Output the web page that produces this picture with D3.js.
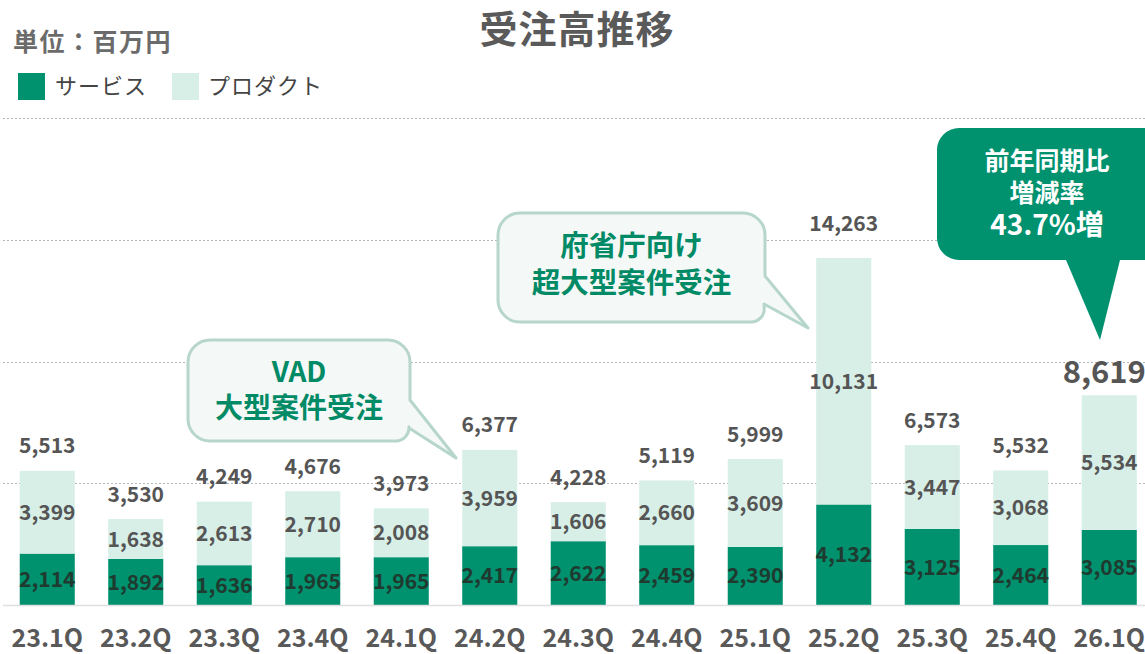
<!DOCTYPE html>
<html><head><meta charset="utf-8">
<script src="https://cdn.jsdelivr.net/npm/d3@7"></script>
<style>body{margin:0;background:#fff}svg{display:block;font-family:"Noto Sans CJK JP","Noto Sans",sans-serif}</style>
</head><body>
<svg id="c" width="1145" height="654"></svg>
<script>
const categories = ["23.1Q","23.2Q","23.3Q","23.4Q","24.1Q","24.2Q","24.3Q","24.4Q","25.1Q","25.2Q","25.3Q","25.4Q","26.1Q"];
const service = [2114,1892,1636,1965,1965,2417,2622,2459,2390,4132,3125,2464,3085];
const product = [3399,1638,2613,2710,2008,3959,1606,2660,3609,10131,3447,3068,5534];
const totals  = [5513,3530,4249,4676,3973,6377,4228,5119,5999,14263,6573,5532,8619];
const yTicks = [0,5000,10000,15000,20000];

const DARK = "#00916f", LIGHT = "#d8efe8";
const svg = d3.select("#c");
const W = 1145;
const x = d3.scaleBand().domain(categories).range([3, 3 + 13*88.5]).paddingInner(0.378).paddingOuter(0.189);
const y = d3.scaleLinear().domain([0,20000]).range([605,118.4]);
const fmt = d3.format(",");

// gridlines
svg.append("g").selectAll("line").data(yTicks.filter(d=>d>0)).join("line")
  .attr("x1",3).attr("x2",W).attr("y1",d=>Math.round(y(d))+0.5).attr("y2",d=>Math.round(y(d))+0.5)
  .attr("stroke","#b5b5b5").attr("stroke-width",1).attr("stroke-dasharray","2,2");

// bars
const g = svg.append("g");
categories.forEach((c,i)=>{
  const bx = x(c), bw = x.bandwidth();
  g.append("rect").attr("x",bx).attr("width",bw).attr("y",y(service[i])).attr("height",y(0)-y(service[i])).attr("fill",DARK);
  g.append("rect").attr("x",bx).attr("width",bw).attr("y",y(service[i]+product[i])).attr("height",y(service[i])-y(service[i]+product[i])).attr("fill",LIGHT);
  const cx = bx + bw/2;
  g.append("text").attr("x",cx).attr("y",(y(0)+y(service[i]))/2).attr("dy","0.36em").attr("text-anchor","middle")
    .attr("font-size",21).attr("font-weight",700).attr("fill","#1f3a2f").text(fmt(service[i]));
  g.append("text").attr("x",cx).attr("y",(y(service[i])+y(service[i]+product[i]))/2).attr("dy","0.36em").attr("text-anchor","middle")
    .attr("font-size",21).attr("font-weight",700).attr("fill","#555").text(fmt(product[i]));
  const last = i === categories.length-1;
  const off = last ? 23 : (totals[i] > 10000 ? 35 : 25);
  g.append("text").attr("x",last? cx-5 : cx).attr("y",y(totals[i]) - off).attr("dy","0.36em").attr("text-anchor","middle")
    .attr("font-size",last?31:21).attr("font-weight",700).attr("fill","#555").text(fmt(totals[i]));
});

// baseline
svg.append("line").attr("x1",3).attr("x2",W).attr("y1",y(0)+0.5).attr("y2",y(0)+0.5).attr("stroke","#e0e0e0").attr("stroke-width",1.5);

// x axis labels
svg.append("g").selectAll("text").data(categories).join("text")
  .attr("x",d=>x(d)+x.bandwidth()/2).attr("y",638).attr("dy","0.36em").attr("text-anchor","middle")
  .attr("font-size",25).attr("font-weight",700).attr("fill","#595959").text(d=>d);

// title, unit, legend
svg.append("text").attr("x",577).attr("y",29).attr("dy","0.36em").attr("text-anchor","middle")
  .attr("font-size",38).attr("font-weight",700).attr("fill","#5a5a5a").attr("letter-spacing",1).text("受注高推移");
svg.append("text").attr("x",13).attr("y",42).attr("dy","0.36em")
  .attr("font-size",25).attr("font-weight",700).attr("fill","#6b6b6b").attr("letter-spacing",1.5).text("単位：百万円");
svg.append("rect").attr("x",18).attr("y",73).attr("width",27).attr("height",27).attr("fill",DARK);
svg.append("text").attr("x",55).attr("y",86).attr("dy","0.36em").attr("font-size",22).attr("fill","#444").attr("letter-spacing",1).text("サービス");
svg.append("rect").attr("x",172).attr("y",73).attr("width",27).attr("height",27).attr("fill",LIGHT);
svg.append("text").attr("x",208).attr("y",86).attr("dy","0.36em").attr("font-size",22).attr("fill","#444").attr("letter-spacing",1).text("プロダクト");

// light callouts
function lightBubble(x0,y0,x1,y1,tail,lines,fs){
  const r=22;
  const p = d3.path();
  p.moveTo(x0+r,y0); p.lineTo(x1-r,y0); p.arcTo(x1,y0,x1,y0+r,r);
  p.lineTo(x1,tail.a); p.lineTo(tail.tx,tail.ty); p.lineTo(tail.bx,tail.by);
  p.arcTo(x1,y1,x1-r,y1,r*0.6);
  p.lineTo(x0+r,y1); p.arcTo(x0,y1,x0,y1-r,r);
  p.lineTo(x0,y0+r); p.arcTo(x0,y0,x0+r,y0,r); p.closePath();
  svg.append("path").attr("d",p.toString()).attr("fill","#f4f8f6").attr("stroke","#b7d6cb").attr("stroke-width",3).attr("stroke-linejoin","round");
  lines.forEach(l=>svg.append("text").attr("x",(x0+x1)/2).attr("y",l.y).attr("dy","0.36em").attr("text-anchor","middle")
    .attr("font-size",fs).attr("font-weight",700).attr("fill","#008a66").text(l.t));
}
lightBubble(188,340,410,441,{a:400,tx:456,ty:458,bx:409,by:428},[{t:"VAD",y:372},{t:"大型案件受注",y:408}],28);
lightBubble(498,213,765,322,{a:276,tx:808,ty:328,bx:764,by:304},[{t:"府省庁向け",y:246},{t:"超大型案件受注",y:283}],28.5);

// dark callout
(function(){
  const x0=937,y0=128,x1=1175,y1=260,r=22;
  const p = d3.path();
  p.moveTo(x0+r,y0); p.lineTo(x1-r,y0); p.arcTo(x1,y0,x1,y0+r,r);
  p.lineTo(x1,y1); p.lineTo(1120,y1); p.lineTo(1100,340); p.lineTo(1066,y1);
  p.lineTo(x0+r,y1); p.arcTo(x0,y1,x0,y1-r,r);
  p.lineTo(x0,y0+r); p.arcTo(x0,y0,x0+r,y0,r); p.closePath();
  svg.append("path").attr("d",p.toString()).attr("fill",DARK);
  [{t:"前年同期比",y:161,fs:25},{t:"増減率",y:193,fs:25},{t:"43.7%増",y:225,fs:28}].forEach(l=>
    svg.append("text").attr("x",1047).attr("y",l.y).attr("dy","0.36em").attr("text-anchor","middle")
      .attr("font-size",l.fs).attr("font-weight",700).attr("fill","#fff").text(l.t));
})();
</script>
</body></html>
